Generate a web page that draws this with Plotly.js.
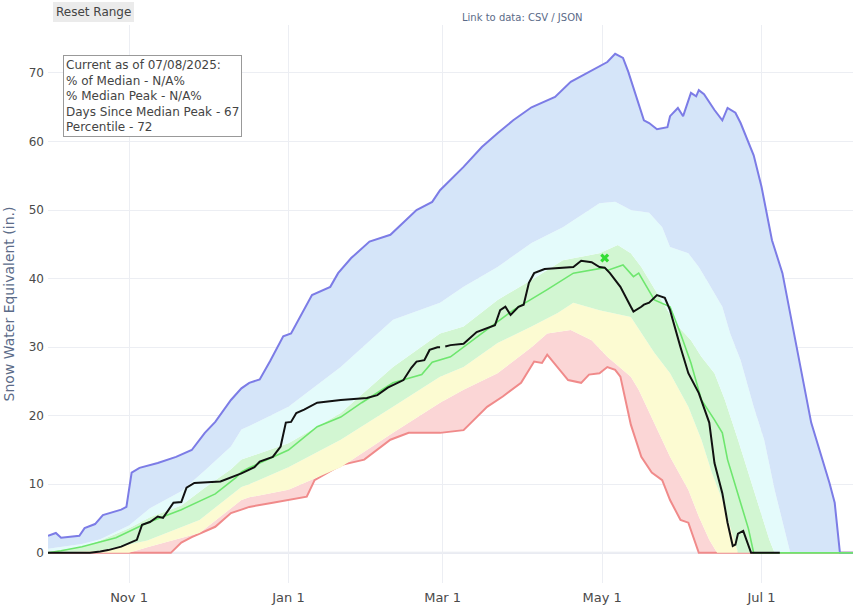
<!DOCTYPE html>
<html>
<head>
<meta charset="utf-8">
<script src="https://cdn.plot.ly/plotly-3.0.1.min.js"></script>
<style>html,body{margin:0;padding:0;background:#fff;}#chart{width:854px;height:608px;}</style>
</head>
<body>
<div id="chart"></div>
<script>
// ---- Data (Snow Water Equivalent, inches) ----
const maxDates = ['2024-10-01','2024-10-04','2024-10-06','2024-10-13','2024-10-15','2024-10-19','2024-10-22','2024-10-29','2024-10-31','2024-11-02','2024-11-05','2024-11-12','2024-11-19','2024-11-25','2024-11-30','2024-12-04','2024-12-10','2024-12-14','2024-12-17','2024-12-21','2024-12-25','2024-12-30','2025-01-02','2025-01-10','2025-01-17','2025-01-20','2025-01-25','2025-02-01','2025-02-09','2025-02-16','2025-02-19','2025-02-25','2025-02-28','2025-03-09','2025-03-16','2025-03-22','2025-03-28','2025-04-04','2025-04-13','2025-04-19','2025-04-27','2025-05-03','2025-05-06','2025-05-09','2025-05-11','2025-05-17','2025-05-19','2025-05-22','2025-05-26','2025-05-27','2025-05-30','2025-06-01','2025-06-04','2025-06-06','2025-06-07','2025-06-09','2025-06-13','2025-06-16','2025-06-18','2025-06-21','2025-06-23','2025-06-28','2025-07-01','2025-07-05','2025-07-09','2025-07-16','2025-07-20','2025-07-27','2025-07-29','2025-07-31','2025-08-05'];
const maxSWE   = [2.5,2.9,2.2,2.5,3.6,4.2,5.5,6.3,6.7,11.7,12.4,13.1,14.0,15.0,17.5,19.1,22.3,24.0,24.8,25.3,28.0,31.6,32.0,37.6,38.8,40.8,43.0,45.4,46.4,48.9,50.0,51.2,52.9,56.3,59.2,61.2,63.1,65.0,66.5,68.7,70.4,71.6,72.8,72.2,70.2,63.1,62.7,61.8,62.1,63.7,64.9,63.7,67.1,66.6,67.5,66.9,64.6,63.1,64.9,64.2,62.7,58.0,53.4,45.6,40.8,27.1,19.0,10.2,7.3,0,0];

const p90Dates = ['2024-10-01','2024-10-14','2024-10-21','2024-11-01','2024-11-09','2024-11-21','2024-11-30','2024-12-10','2024-12-14','2024-12-17','2025-01-01','2025-01-21','2025-02-10','2025-02-28','2025-03-09','2025-03-22','2025-04-04','2025-04-16','2025-04-30','2025-05-06','2025-05-12','2025-05-19','2025-05-24','2025-05-27','2025-06-03','2025-06-07','2025-06-10','2025-06-16','2025-06-19','2025-06-23','2025-06-28','2025-07-02','2025-07-06','2025-07-09','2025-07-12','2025-08-05'];
const p90SWE   = [0.6,1.3,2.0,4.0,6.5,9.0,12.0,15.5,18.0,18.5,21.3,27.1,34.0,36.5,38.8,41.7,45.2,47.5,51.0,51.2,50.0,49.6,47.5,44.6,43.7,41.7,39.8,35.9,32.0,28.1,21.3,16.5,9.2,4.4,0,0];

const p70Dates = ['2024-10-01','2024-10-14','2024-10-21','2024-11-01','2024-11-09','2024-11-21','2024-11-30','2024-12-10','2024-12-14','2024-12-17','2025-01-01','2025-01-21','2025-02-10','2025-02-28','2025-03-09','2025-03-22','2025-04-04','2025-04-16','2025-04-30','2025-05-07','2025-05-12','2025-05-16','2025-05-22','2025-05-29','2025-06-04','2025-06-08','2025-06-13','2025-06-17','2025-06-22','2025-06-26','2025-06-30','2025-07-04','2025-07-06','2025-08-05'];
const p70SWE   = [0.2,0.9,1.8,3.6,5.2,6.9,9.5,12.2,13.6,14.0,16.0,20.4,27.1,32.0,33.0,36.9,39.8,42.7,43.7,44.9,43.7,41.7,37.9,33.5,31.0,28.6,26.2,22.3,16.5,11.7,6.7,1.9,0,0];

const medDates = ['2024-10-01','2024-10-06','2024-10-14','2024-10-27','2024-11-08','2024-11-21','2024-12-04','2024-12-12','2024-12-14','2024-12-17','2025-01-01','2025-01-12','2025-01-21','2025-01-29','2025-02-10','2025-02-21','2025-02-25','2025-03-04','2025-03-16','2025-03-28','2025-04-10','2025-04-20','2025-05-02','2025-05-03','2025-05-09','2025-05-13','2025-05-15','2025-05-21','2025-05-27','2025-05-31','2025-06-04','2025-06-08','2025-06-13','2025-06-16','2025-06-18','2025-06-22','2025-06-26','2025-06-28','2025-08-05'];
const medSWE   = [0,0.3,0.9,2.2,4.4,6.3,8.6,11.0,11.8,12.4,15.0,18.4,19.8,21.9,24.8,26.0,27.8,28.6,32.0,35.4,38.4,40.8,41.6,41.2,42.0,40.3,40.8,36.9,35.9,32.0,27.7,22.3,19.4,17.5,13.6,8.5,3.5,0,0];

const p30Dates = ['2024-10-01','2024-10-21','2024-11-08','2024-11-28','2024-12-14','2024-12-17','2025-01-01','2025-01-21','2025-02-10','2025-02-28','2025-03-09','2025-03-22','2025-04-04','2025-04-14','2025-04-20','2025-04-30','2025-05-12','2025-05-16','2025-05-21','2025-05-27','2025-06-03','2025-06-08','2025-06-12','2025-06-16','2025-06-19','2025-06-22','2025-08-05'];
const p30SWE   = [0,0.3,1.8,4.8,9.6,10.0,12.5,16.5,21.3,25.7,27.1,30.6,33.0,35.0,36.5,35.4,34.4,32.0,29.2,26.2,21.3,16.5,11.7,7.7,3.8,0,0];

const p10Dates = ['2024-10-01','2024-11-01','2024-11-08','2024-11-28','2024-12-14','2024-12-17','2025-01-01','2025-01-21','2025-02-10','2025-02-28','2025-03-09','2025-03-22','2025-04-04','2025-04-10','2025-04-19','2025-04-27','2025-05-03','2025-05-12','2025-05-15','2025-05-21','2025-05-27','2025-06-03','2025-06-07','2025-06-11','2025-06-14','2025-08-05'];
const p10SWE   = [0,0,0.8,2.9,7.7,8.1,9.2,12.5,17.5,21.9,23.8,26.2,30.0,32.0,32.5,31.0,28.6,25.7,23.8,19.0,14.0,9.2,5.3,1.9,0,0];

const minDates = ['2024-10-01','2024-11-17','2024-11-21','2024-11-25','2024-12-04','2024-12-10','2024-12-14','2024-12-17','2024-12-26','2025-01-08','2025-01-11','2025-01-21','2025-01-30','2025-02-09','2025-02-16','2025-02-28','2025-03-09','2025-03-18','2025-03-24','2025-03-31','2025-04-05','2025-04-08','2025-04-10','2025-04-18','2025-04-23','2025-04-26','2025-04-30','2025-05-03','2025-05-06','2025-05-08','2025-05-12','2025-05-16','2025-05-20','2025-05-24','2025-05-27','2025-05-31','2025-06-03','2025-06-07','2025-08-05'];
const minSWE   = [0,0,1.5,2.3,3.8,5.8,6.3,6.7,7.3,8.2,10.6,12.8,13.6,16.5,17.5,17.5,17.9,21.3,22.8,24.8,27.9,27.7,28.9,25.2,24.8,26.0,26.2,27.1,26.7,25.7,18.7,14.0,11.7,10.6,7.7,4.8,4.4,0,0];

const curDates = ['2024-10-01','2024-10-17','2024-10-21','2024-10-24','2024-10-29','2024-11-01','2024-11-04','2024-11-06','2024-11-09','2024-11-12','2024-11-14','2024-11-18','2024-11-21','2024-11-23','2024-11-26','2024-12-06','2024-12-11','2024-12-14','2024-12-19','2024-12-21','2024-12-26','2024-12-29','2024-12-31','2025-01-02','2025-01-04','2025-01-07','2025-01-12','2025-01-21','2025-01-31','2025-02-04','2025-02-08','2025-02-12','2025-02-14','2025-02-17','2025-02-19','2025-02-22','2025-02-24','2025-02-27','2025-02-28','2025-03-01','2025-03-02','2025-03-04','2025-03-09','2025-03-14','2025-03-21','2025-03-23','2025-03-25','2025-03-27','2025-03-30','2025-04-01','2025-04-03','2025-04-05','2025-04-09','2025-04-16','2025-04-20','2025-04-23','2025-04-27','2025-04-30','2025-05-02','2025-05-04','2025-05-08','2025-05-12','2025-05-13','2025-05-16','2025-05-17','2025-05-19','2025-05-22','2025-05-25','2025-05-27','2025-05-31','2025-06-03','2025-06-07','2025-06-11','2025-06-13','2025-06-16','2025-06-18','2025-06-20','2025-06-21','2025-06-22','2025-06-24','2025-06-27','2025-07-08'];
const curSWE   = [0,0,0.2,0.4,0.9,1.4,1.9,4.1,4.5,5.3,5.1,7.3,7.4,9.5,10.2,10.4,11.1,11.6,12.5,13.3,14.0,15.5,19.0,19.1,20.4,20.9,21.9,22.3,22.6,23.0,24.1,24.8,25.2,27.0,27.9,28.1,29.6,30.0,30.0,null,30.1,30.3,30.5,32.2,33.2,35.4,35.9,34.7,35.9,36.2,39.4,40.8,41.4,41.6,41.7,42.6,42.4,41.7,41.6,40.8,38.8,35.9,35.2,35.9,36.2,36.5,37.6,37.2,35.4,30.0,26.2,23.3,19.0,13.1,8.7,4.4,1.0,1.2,2.8,3.2,0,0];

const medPeakDate = ['2025-05-02'];
const medPeakSWE  = [43.0];

const yTicks = [0,10,20,30,40,50,60,70];
const infoLines = ['Current as of 07/08/2025:','% of Median - N/A%','% Median Peak - N/A%','Days Since Median Peak - 67','Percentile - 72'];

// ---- Traces ----
const FONT = 'Verdana, "DejaVu Sans", sans-serif';
const band = (x, y, color, name) => ({x, y, name, type:'scatter', mode:'lines', line:{width:0, color:color}, fill:'tonexty', fillcolor:color, hoverinfo:'skip'});

const traces = [
  {x:minDates, y:minSWE, name:'Min', type:'scatter', mode:'lines', line:{color:'#f08a8a', width:2}},
  band(p10Dates, p10SWE, '#fbd6d6', '10%'),
  band(p30Dates, p30SWE, '#fcfbd2', '30%'),
  band(p70Dates, p70SWE, '#d2f6d2', '70%'),
  band(p90Dates, p90SWE, '#e4fbfb', '90%'),
  {x:maxDates, y:maxSWE, name:'Max', type:'scatter', mode:'lines', line:{color:'#7c7ce6', width:2}, fill:'tonexty', fillcolor:'#d5e5f9'},
  {x:medDates, y:medSWE, name:'Median', type:'scatter', mode:'lines', line:{color:'#6ee66e', width:1.6}},
  {x:curDates, y:curSWE, name:'WY2025', type:'scatter', mode:'lines', line:{color:'#111111', width:2}, connectgaps:false},
  {x:medPeakDate, y:medPeakSWE, name:'Median Peak', type:'scatter', mode:'markers', marker:{symbol:'x', size:8, color:'#33dd33'}}
];

const layout = {
  width:854, height:608,
  margin:{l:48, r:1, t:25, b:25},
  paper_bgcolor:'#ffffff', plot_bgcolor:'#ffffff',
  showlegend:false,
  font:{family:FONT, size:12, color:'#444'},
  xaxis:{
    type:'date', range:['2024-10-01','2025-08-05'],
    tick0:'2024-11-01', dtick:'M2', tickformat:'%b %-d',
    showgrid:true, gridcolor:'#eceef3', zeroline:false, showline:false,
    tickfont:{family:FONT, size:13, color:'#4a4a4a'}, ticks:'', ticklabelstandoff:5
  },
  yaxis:{
    range:[-4.4, 77], tickvals:yTicks, ticktext:yTicks.map(String),
    showgrid:true, gridcolor:'#eceef3',
    zeroline:false,
    tickfont:{family:FONT, size:12, color:'#4a4a4a'}, ticklabelstandoff:3,
    title:{text:'Snow Water Equivalent (in.)', font:{family:FONT, size:14, color:'#5b6b88'}, standoff:10}
  },
  shapes:[
    {type:'line', xref:'paper', yref:'y', x0:0, x1:1, y0:0, y1:0, layer:'below', line:{color:'#e2e5ee', width:2}}
  ],
  annotations:[
    {xref:'paper', yref:'paper', x:0.0186, y:0.946, xanchor:'left', yanchor:'top', align:'left',
     text:infoLines.join('<br>'), showarrow:false, bgcolor:'#ffffff', bordercolor:'#999999', borderwidth:1, borderpad:2,
     font:{family:FONT, size:12, color:'#444'}},
    {xref:'paper', yref:'paper', x:0.589, y:1.014, xanchor:'center', yanchor:'middle',
     text:'Link to data: CSV / JSON', showarrow:false, font:{family:FONT, size:10, color:'#5b6b88'}},
    {xref:'paper', yref:'paper', x:0.0062, y:1.041, xanchor:'left', yanchor:'top',
     text:'Reset Range', showarrow:false, bgcolor:'#ebebeb', bordercolor:'#ebebeb', borderwidth:1, borderpad:2,
     font:{family:FONT, size:12, color:'#444'}}
  ]
};

Plotly.newPlot('chart', traces, layout, {displayModeBar:false, responsive:false});
</script>
</body>
</html>
